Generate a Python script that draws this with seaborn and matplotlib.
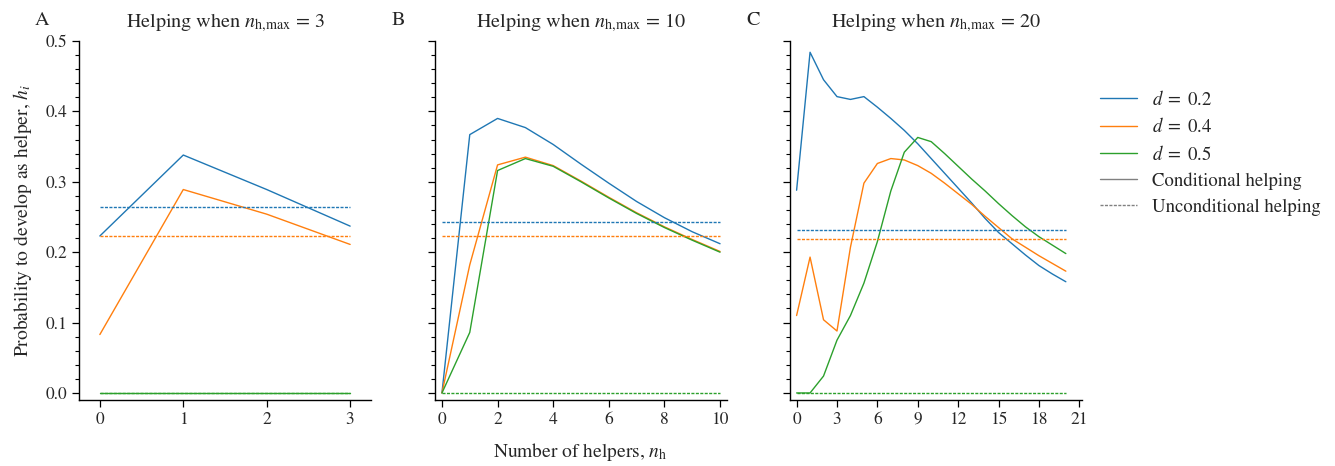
import numpy as np
import pandas as pd
import matplotlib
matplotlib.use("Agg")
import matplotlib.pyplot as plt
from matplotlib.lines import Line2D
from matplotlib.ticker import MultipleLocator
import seaborn as sns

# ---------------- data ----------------
d_values = [0.2, 0.4, 0.5]
panel_letters = ["A", "B", "C"]
nh_max = [3, 10, 20]

# Panel A (n_h,max = 3)
a_x = [0, 1, 2, 3]
a_cond_d02 = [0.223, 0.338, 0.289, 0.237]
a_cond_d04 = [0.083, 0.289, 0.254, 0.211]
a_cond_d05 = [0.0, 0.0, 0.0, 0.0]
a_uncond = [0.264, 0.223, 0.0]

# Panel B (n_h,max = 10)
b_x = list(range(11))
b_cond_d02 = [0.0, 0.367, 0.390, 0.377, 0.353, 0.325, 0.298, 0.272, 0.249, 0.229, 0.212]
b_cond_d04 = [0.0, 0.182, 0.324, 0.335, 0.323, 0.301, 0.278, 0.256, 0.236, 0.218, 0.201]
b_cond_d05 = [0.0, 0.086, 0.316, 0.333, 0.322, 0.300, 0.277, 0.255, 0.235, 0.217, 0.200]
b_uncond = [0.243, 0.223, 0.0]

# Panel C (n_h,max = 20)
c_x = list(range(21))
c_cond_d02 = [0.288, 0.484, 0.445, 0.421, 0.417, 0.421, 0.406, 0.390, 0.373, 0.354,
              0.333, 0.312, 0.291, 0.270, 0.248, 0.228, 0.212, 0.196, 0.181, 0.169, 0.158]
c_cond_d04 = [0.110, 0.193, 0.104, 0.088, 0.207, 0.298, 0.326, 0.333, 0.331, 0.323,
              0.312, 0.298, 0.283, 0.268, 0.251, 0.235, 0.219, 0.207, 0.195, 0.184, 0.173]
c_cond_d05 = [0.0, 0.0, 0.024, 0.075, 0.110, 0.156, 0.215, 0.287, 0.342, 0.363,
              0.357, 0.340, 0.322, 0.304, 0.287, 0.269, 0.252, 0.236, 0.222, 0.210, 0.198]
c_uncond = [0.232, 0.219, 0.0]

panels = [
    (a_x, [a_cond_d02, a_cond_d04, a_cond_d05], a_uncond),
    (b_x, [b_cond_d02, b_cond_d04, b_cond_d05], b_uncond),
    (c_x, [c_cond_d02, c_cond_d04, c_cond_d05], c_uncond),
]

# ---------------- style ----------------
sns.set_style("ticks")
plt.rcParams["font.family"] = ["STIXGeneral", "DejaVu Serif"]
plt.rcParams["mathtext.fontset"] = "stix"
plt.rcParams["axes.unicode_minus"] = False

colors = ["#1f77b4", "#ff7f0e", "#2ca02c"]
dash_pat = (2.2, 1.0)

fig = plt.figure(figsize=(13.35, 4.66), dpi=100)
W, H = 1335, 466
lefts = [79, 435, 790]
ax_w = 292
top_px, bot_px = 41, 400
xlims = [(-0.25, 3.25), (-0.25, 10.25), (-0.49, 21.2)]
xticks = [[0, 1, 2, 3], list(range(0, 11, 2)), list(range(0, 22, 3))]

axes = []
for i, (xs, conds, unc) in enumerate(panels):
    ax = fig.add_axes([lefts[i] / W, 1 - bot_px / H, ax_w / W, (bot_px - top_px) / H])
    axes.append(ax)
    rows = []
    for d, ys in zip(d_values, conds):
        for x, y in zip(xs, ys):
            rows.append({"nh": x, "h": y, "d": f"{d}"})
    df = pd.DataFrame(rows)
    sns.lineplot(data=df, x="nh", y="h", hue="d", palette=colors, ax=ax,
                 linewidth=1.0, legend=False, estimator=None)
    for c, u in zip(colors, unc):
        udf = pd.DataFrame({"nh": [xs[0], xs[-1]], "h": [u, u]})
        sns.lineplot(data=udf, x="nh", y="h", color=c, ax=ax, linewidth=1.0,
                     dashes=False, legend=False, estimator=None)
        ax.lines[-1].set_dashes(dash_pat)
    ax.set_xlim(*xlims[i])
    ax.set_ylim(-0.01, 0.5)
    ax.set_xticks(xticks[i])
    ax.set_yticks([0.0, 0.1, 0.2, 0.3, 0.4, 0.5])
    ax.yaxis.set_minor_locator(MultipleLocator(0.02))
    ax.tick_params(axis="both", which="major", labelsize=12.5, length=5, width=0.9, color="black")
    ax.tick_params(axis="y", which="minor", length=3, width=0.8, color="black")
    ax.set_xlabel("")
    ax.set_ylabel("")
    if i == 0:
        ax.set_yticklabels(["0.0", "0.1", "0.2", "0.3", "0.4", "0.5"])
    else:
        ax.set_yticklabels([])
    for s in ["left", "bottom"]:
        ax.spines[s].set_linewidth(1.0)
        ax.spines[s].set_color("black")
    sns.despine(ax=ax)
    ax.set_title(r"Helping when $n_{\mathrm{h{,}max}}$ = " + str(nh_max[i]), fontsize=14.5, pad=10)
    ax.text(-0.15, 1.058, panel_letters[i], transform=ax.transAxes, fontsize=14.5,
            ha="left", va="center")

axes[0].set_ylabel(r"Probability to develop as helper, $h_i$", fontsize=14, labelpad=8)
fig.text(580 / W, 1 - 452 / H, r"Number of helpers, $n_{\mathrm{h}}$", fontsize=14,
         ha="center", va="center")

handles = [Line2D([], [], color=c, lw=1.0) for c in colors]
handles += [Line2D([], [], color="grey", lw=1.0),
            Line2D([], [], color="grey", lw=1.0, dashes=dash_pat)]
labels = [f"$d\\;=\\;{d}$" for d in d_values] + ["Conditional helping", "Unconditional helping"]
fig.legend(handles, labels, loc="center left", bbox_to_anchor=(1083 / W, 1 - 153 / H),
           frameon=False, fontsize=13.5, handlelength=2.0, handletextpad=0.8,
           labelspacing=0.45)

fig.savefig("out.png", dpi=100)
